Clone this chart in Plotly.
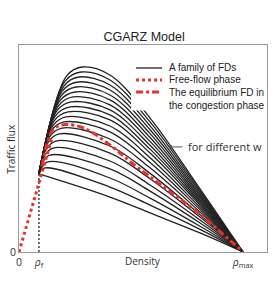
import plotly.graph_objects as go

# ---- data (normalised density: rho_max = 1, flux: top peak = 1) ----
rho_f = 0.089
q_f = 0.422
rho_max = 1.0

peak_rho = [None, 0.112, 0.125, 0.138, 0.152, 0.165, 0.179, 0.192, 0.201, 0.210,
            0.219, 0.228, 0.232, 0.241, 0.250, 0.254, 0.263, 0.268, 0.277, 0.281]
peak_q = [None, 0.454, 0.486, 0.524, 0.562, 0.600, 0.638, 0.670, 0.703, 0.730,
          0.757, 0.784, 0.811, 0.838, 0.865, 0.892, 0.919, 0.946, 0.973, 1.000]
peel_rho = [None, None, None, 0.098, 0.111, 0.119, 0.128, 0.136, 0.143, 0.150,
            0.156, 0.162, 0.168, 0.175, 0.181, 0.187, 0.193, 0.200, 0.206, 0.212]
peel_q = [None, None, None, 0.476, 0.514, 0.551, 0.589, 0.622, 0.654, 0.681,
          0.708, 0.735, 0.762, 0.789, 0.816, 0.843, 0.870, 0.897, 0.924, 0.951]

desc_rho = [0.406, 0.585, 0.808]
desc_q = [
    [0.297, 0.351, 0.400, 0.449, 0.492, 0.535, 0.573, 0.611, 0.649, 0.681,
     0.714, 0.741, 0.768, 0.795, 0.822, 0.849, 0.876, 0.903, 0.930, 0.957],
    [0.211, 0.253, 0.291, 0.329, 0.362, 0.396, 0.425, 0.455, 0.484, 0.510,
     0.535, 0.556, 0.577, 0.598, 0.619, 0.640, 0.661, 0.682, 0.703, 0.724],
    [0.103, 0.122, 0.139, 0.157, 0.173, 0.189, 0.202, 0.216, 0.229, 0.241,
     0.253, 0.263, 0.272, 0.282, 0.292, 0.302, 0.311, 0.321, 0.331, 0.341],
]

eq_rho = [0.103, 0.125, 0.147, 0.174, 0.210, 0.290, 0.424, 0.504, 0.652, 0.795, 1.0]
eq_q = [0.465, 0.584, 0.654, 0.681, 0.689, 0.670, 0.562, 0.481, 0.346, 0.216, 0.0]

ff_rho = [0.0, 0.089, 0.121, 0.147]
ff_q = [0.0, 0.378, 0.508, 0.616]

x_ticks = [0, rho_f, rho_max]
x_ticklabels = ["0", "<i>ρ</i><sub>f</sub>", "<i>ρ</i><sub>max</sub>"]

legend_labels = ["A family of FDs", "Free-flow phase",
                 "The equilibrium FD in<br>the congestion phase"]

BLACK = "#222222"
RED = "#e8312b"
TXT = "#333333"

fig = go.Figure()

for i in range(len(peak_q)):
    xs = [rho_f]
    ys = [q_f]
    if peel_rho[i] is not None:
        xs.append(peel_rho[i]); ys.append(peel_q[i])
    if peak_rho[i] is not None:
        xs.append(peak_rho[i]); ys.append(peak_q[i])
    for k in range(len(desc_rho)):
        xs.append(desc_rho[k]); ys.append(desc_q[k][i])
    xs.append(rho_max); ys.append(0.0)
    fig.add_trace(go.Scatter(
        x=xs, y=ys, mode="lines",
        line=dict(color=BLACK, width=1.3, shape="spline", smoothing=1.0),
        name=legend_labels[0], showlegend=False, hoverinfo="skip",
    ))

fig.add_trace(go.Scatter(
    x=[rho_f, rho_f], y=[0, q_f], mode="lines", hoverinfo="skip",
    line=dict(color="#111111", width=1.2, dash="2px,2px"), showlegend=False))

fig.add_trace(go.Scatter(
    x=ff_rho, y=ff_q, mode="lines", hoverinfo="skip",
    line=dict(color=RED, width=3, dash="3px,3px"),
    name=legend_labels[1], showlegend=False))

fig.add_trace(go.Scatter(
    x=eq_rho, y=eq_q, mode="lines", hoverinfo="skip",
    line=dict(color=RED, width=3, dash="7px,3px,3px,3px", shape="spline", smoothing=1.0),
    name=legend_labels[2], showlegend=False))

# ---- legend drawn by hand (white box hides the curves beneath it) ----
fig.add_shape(type="rect", xref="paper", yref="paper", x0=0.452, x1=0.998,
              y0=0.683, y1=0.997, fillcolor="white", line=dict(width=0), layer="above")
leg_y = [0.889, 0.831, 0.773]
leg_style = [dict(color=BLACK, width=1.3),
             dict(color=RED, width=3, dash="3px,3px"),
             dict(color=RED, width=3, dash="7px,3px,3px,3px")]
for yy, st in zip(leg_y, leg_style):
    fig.add_shape(type="line", xref="paper", yref="paper", x0=0.472, x1=0.577,
                  y0=yy, y1=yy, line=st, layer="above")
fig.add_annotation(x=0.597, y=leg_y[0], xref="paper", yref="paper", text=legend_labels[0],
                   showarrow=False, xanchor="left", yanchor="middle",
                   font=dict(family="Liberation Sans", size=10, color=BLACK))
fig.add_annotation(x=0.597, y=leg_y[1], xref="paper", yref="paper", text=legend_labels[1],
                   showarrow=False, xanchor="left", yanchor="middle",
                   font=dict(family="Liberation Sans", size=10, color=BLACK))
fig.add_annotation(x=0.597, y=leg_y[2] + 0.033, xref="paper", yref="paper", text=legend_labels[2],
                   showarrow=False, xanchor="left", yanchor="top", align="left",
                   font=dict(family="Liberation Sans", size=10, color=BLACK))

fig.add_annotation(x=0.665, y=0.568, ax=16, ay=0, xref="x", yref="y",
                   showarrow=True, arrowhead=2, arrowsize=0.8, arrowwidth=1,
                   arrowcolor="#555555", text="")
fig.add_annotation(x=0.746, y=0.568, xref="x", yref="y", text="for different w",
                   showarrow=False, xanchor="left", yanchor="middle",
                   font=dict(family="Open Sans", size=11, color=TXT))

fig.add_annotation(x=0.5, y=-0.045, xref="paper", yref="paper", text="Density",
                   showarrow=False, yanchor="middle",
                   font=dict(family="Open Sans", size=10, color=TXT))
fig.add_annotation(x=-0.035, y=0.5, xref="paper", yref="paper", text="Traffic flux",
                   showarrow=False, textangle=-90, xanchor="center",
                   font=dict(family="Open Sans", size=10, color=TXT))

fig.update_layout(
    width=274, height=281,
    margin=dict(l=19, r=7, t=45, b=29),
    paper_bgcolor="white", plot_bgcolor="white",
    title=dict(text="CGARZ Model", x=0.526, xanchor="center", y=1 - 37 / 281,
               yanchor="middle", yref="container",
               font=dict(family="Liberation Sans", size=12.5, color=BLACK)),
    showlegend=False,
)
fig.update_xaxes(range=[0, 1.107], tickvals=x_ticks, ticktext=x_ticklabels,
                 showgrid=False, zeroline=False, showline=True, linecolor="#999999",
                 linewidth=1, mirror=True, ticks="", ticklen=0,
                 tickfont=dict(family="Open Sans", size=10.5, color=TXT))
fig.update_yaxes(range=[0, 1.119], tickvals=[0], ticktext=["0"],
                 showgrid=False, zeroline=False, showline=True, linecolor="#999999",
                 linewidth=1, mirror=True, ticks="",
                 tickfont=dict(family="Open Sans", size=10.5, color=TXT))

fig.write_html("out.html", config={"displayModeBar": False},
               post_script="document.body.style.margin='0';")
